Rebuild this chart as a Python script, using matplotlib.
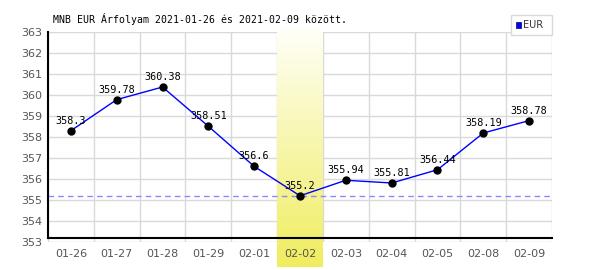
import numpy as np
import matplotlib.pyplot as plt
from matplotlib.patches import Rectangle

# adatok
dates = ['01-26', '01-27', '01-28', '01-29', '02-01', '02-02',
         '02-03', '02-04', '02-05', '02-08', '02-09']
eur = [358.3, 359.78, 360.38, 358.51, 356.6, 355.2,
       355.94, 355.81, 356.44, 358.19, 358.78]
labels = ['358.3', '359.78', '360.38', '358.51', '356.6', '355.2',
          '355.94', '355.81', '356.44', '358.19', '358.78']
highlight = 5  # 02-02, a minimum napja

fig = plt.figure(figsize=(6, 2.7), dpi=100)
ax = fig.add_axes([0.08, 0.1037, 0.84, 0.7778])
ax.set_axisbelow(False)

x = np.arange(len(dates))
ax.set_xlim(-0.5, len(dates) - 0.5)
ax.set_ylim(353, 363)

# rács
for v in range(353, 364):
    ax.axhline(v, color='#d9d9d9', lw=1, zorder=1)
for k in range(len(dates) + 1):
    ax.axvline(k - 0.5, color='#d9d9d9', lw=1, zorder=1)

# kiemelt sáv színátmenettel
grad = np.linspace(0, 1, 256).reshape(-1, 1)
top = np.array([1.0, 1.0, 0.97])
bot = np.array([0.94, 0.93, 0.37])
img = top + (bot - top) * grad[:, :, None] * np.ones((1, 1, 3))
ax.imshow(img, extent=(highlight - 0.5, highlight + 0.5, 351.81, 363.1),
          aspect='auto', origin='upper', zorder=2, clip_on=False)

# minimum szint
ax.axhline(min(eur), color='#8888ff', lw=1, ls=(0, (4, 3)), zorder=3)

# tengelyvonalak
ax.plot([-0.5, len(dates) - 0.5], [353.19, 353.19], color='black', lw=1.5,
        zorder=4, clip_on=False)
ax.plot([-0.5, -0.5], [353.19, 363], color='black', lw=1.5, zorder=4, clip_on=False)

ax.plot(x, eur, color='#0000ff', lw=1, zorder=5)
ax.plot(x, eur, 'o', color='black', ms=5, zorder=6)

for xi, yi, lab in zip(x, eur, labels):
    ax.text(xi, yi + 0.48, lab, ha='center', va='center', fontsize=7.3,
            family='DejaVu Sans Mono', color='black', zorder=7)

for s in ax.spines.values():
    s.set_visible(False)
ax.set_xticks(x)
ax.set_xticklabels(dates)
ax.set_yticks(range(353, 364))
ax.tick_params(length=0, labelsize=8, labelcolor='#555555', pad=4)
ax.tick_params(axis='x', pad=5)

fig.text(53 / 600, 1 - 19 / 270, 'MNB EUR Árfolyam 2021-01-26 és 2021-02-09 között.',
         fontsize=7.1, family='DejaVu Sans Mono', va='center', ha='left')

# jelmagyarázat
fig.patches.append(Rectangle((511 / 600, 1 - 35 / 270), 41 / 600, 20 / 270,
                             transform=fig.transFigure, facecolor='white',
                             edgecolor='#d9d9d9', lw=1))
fig.patches.append(Rectangle((516 / 600, 1 - 28 / 270), 5 / 600, 6 / 270,
                             transform=fig.transFigure, facecolor='#0000ff',
                             edgecolor='#000066', lw=0.5))
fig.text(523 / 600, 1 - 25.5 / 270, 'EUR', fontsize=7, color='#333333',
         va='center', ha='left')

fig.savefig('out.png', dpi=100)
